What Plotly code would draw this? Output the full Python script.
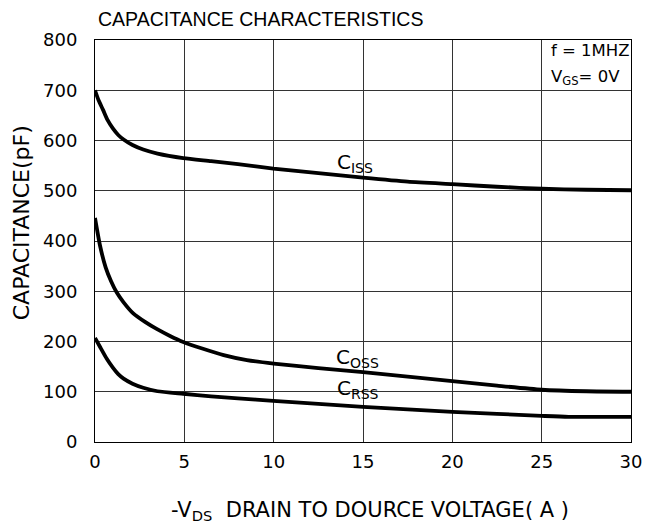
import plotly.graph_objects as go

vds_iss = [0, 0.2, 0.45, 0.7, 1.0, 1.3, 1.6, 2.1, 2.7, 3.5, 4.94, 6.5, 8, 9.98, 12.5, 15, 17.5, 20, 22.5, 25, 27.5, 30]
ciss = [700, 680, 661, 641, 624, 611, 602, 591, 582, 574, 565, 559, 553, 544, 535, 526, 518, 513, 508, 504, 502, 501]

vds_oss = [0, 0.28, 0.6, 0.9, 1.21, 1.6, 2.14, 2.8, 3.45, 4.2, 4.94, 6, 7.2, 8.5, 10, 12.5, 15, 17.5, 20, 22.5, 25, 27.5, 30]
coss = [446, 391, 347, 320, 298, 278, 256, 239, 225, 211, 199, 186, 173, 163, 156, 147, 139, 130, 121, 112, 104, 101, 100]

vds_rss = [0, 0.3, 0.65, 1.0, 1.3, 1.6, 2.1, 2.7, 3.5, 4.94, 6.5, 8, 9.98, 12.5, 15, 17.5, 20, 22.5, 25, 26.5, 30]
crss = [207, 188, 166, 148, 135, 126, 116, 108, 101, 96, 91, 87, 82, 76, 70, 65, 60, 56, 52, 50, 50]

x_ticks = [0, 5, 10, 15, 20, 25, 30]
y_ticks = [0, 100, 200, 300, 400, 500, 600, 700, 800]

FONT = "DejaVu Sans, Verdana, sans-serif"
TITLE_FONT = "Liberation Sans, Arial, sans-serif"

fig = go.Figure()
for xs, ys in [(vds_iss, ciss), (vds_oss, coss), (vds_rss, crss)]:
    fig.add_trace(go.Scatter(x=xs, y=ys, mode="lines",
                             line=dict(color="black", width=3.8, shape="spline", smoothing=0.6),
                             showlegend=False, hoverinfo="skip"))

labels = [(14.55, 555, "C<sub>ISS</sub>"), (14.7, 167, "C<sub>OSS</sub>"), (14.7, 105, "C<sub>RSS</sub>")]
for x, y, t in labels:
    fig.add_annotation(x=x, y=y, text=t, showarrow=False, xanchor="center", yanchor="middle",
                       font=dict(family=FONT, size=20, color="black"))

fig.add_annotation(x=25.4, y=780, text="f = 1MHZ", showarrow=False, xanchor="left", yanchor="middle",
                   font=dict(family=FONT, size=16.5, color="black"))
fig.add_annotation(x=25.4, y=726, text="V<sub>GS</sub>= 0V", showarrow=False, xanchor="left", yanchor="middle",
                   font=dict(family=FONT, size=16.5, color="black"))

# axis titles
fig.add_annotation(xref="paper", yref="paper", x=0.513, y=-0.171, xanchor="center", yanchor="middle",
                   text="-V<sub>DS</sub>  DRAIN TO DOURCE VOLTAGE( A )", showarrow=False,
                   font=dict(family=FONT, size=21, color="black"))
fig.add_annotation(xref="paper", yref="paper", x=-0.137, y=0.5455, xanchor="center", yanchor="middle",
                   textangle=-90, text="CAPACITANCE(pF)", showarrow=False,
                   font=dict(family=FONT, size=22, color="black"))

# page body has an 8px margin: size the figure so the plot lands where the reference has it
fig.update_layout(
    width=648, height=517,
    margin=dict(l=87, r=25, t=32, b=83),
    plot_bgcolor="white", paper_bgcolor="white",
    font=dict(family=FONT, size=18, color="black"),
    title=dict(text="CAPACITANCE CHARACTERISTICS", x=90 / 648, xanchor="left", y=1 - 11 / 517, yanchor="middle",
               font=dict(family=TITLE_FONT, size=19.5, color="black")),
)
fig.update_xaxes(range=[0, 30], tickvals=x_ticks, ticktext=[str(v) for v in x_ticks],
                 showgrid=True, gridcolor="#333", gridwidth=1, zeroline=False,
                 showline=True, linecolor="black", linewidth=1, mirror=True, ticks="",
                 ticklabelstandoff=3, automargin=False)
fig.update_yaxes(range=[0, 800], tickvals=y_ticks, ticktext=[str(v) for v in y_ticks],
                 showgrid=True, gridcolor="#333", gridwidth=1, zeroline=False,
                 showline=True, linecolor="black", linewidth=1, mirror=True, ticks="",
                 ticklabelstandoff=13, automargin=False)

fig.write_html("out.html")
